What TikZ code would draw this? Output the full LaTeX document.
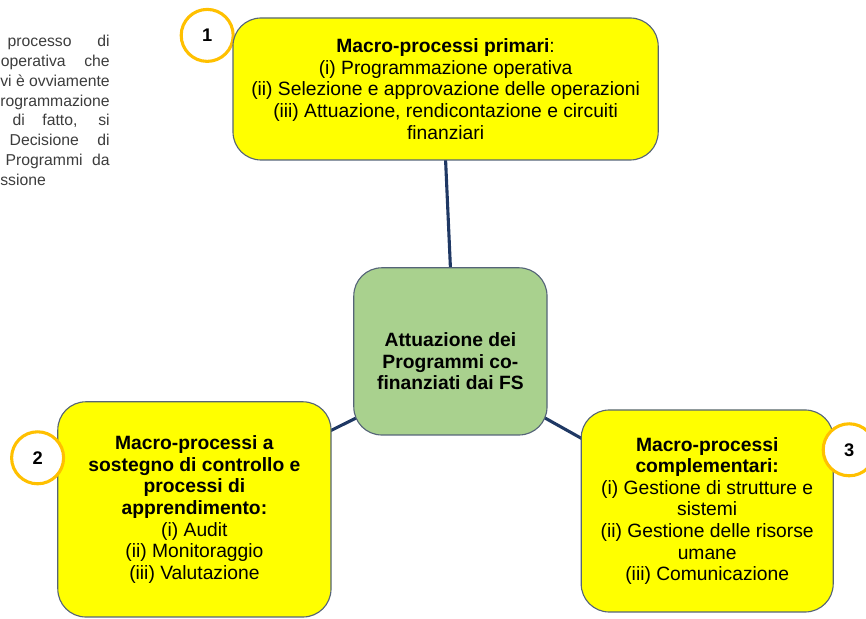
\documentclass[tikz,border=0pt]{standalone}
\usepackage{fontspec}
\setmainfont{Liberation Sans}
\usepackage{tikz}
\usetikzlibrary{positioning, calc}
\pgfdeclarelayer{bg}
\pgfsetlayers{bg,main}
\definecolor{boxyellow}{RGB}{255,255,0}
\definecolor{boxgreen}{RGB}{169,209,142}
\definecolor{boxborder}{RGB}{85,100,120}
\definecolor{linknavy}{RGB}{31,56,100}
\definecolor{numorange}{RGB}{255,192,0}
\definecolor{paragray}{RGB}{60,60,60}

\begin{document}
\begin{tikzpicture}[scale=1,
	macro/.style={draw=boxborder, line width=0.8pt, fill=boxyellow, rounded corners=0.7cm,
		align=center, inner sep=0pt, font=\fontsize{13.7}{15.4}\selectfont},
	hub/.style={macro, fill=boxgreen},
	numcirc/.style={circle, draw=numorange, line width=2.2pt, fill=white, minimum size=1.3cm,
		inner sep=0pt, font=\fontsize{13}{14}\selectfont\bfseries},
	link/.style={draw=linknavy, line width=2.2pt, shorten <=-3pt, shorten >=-3pt},
	para/.style={text=paragray, inner sep=0pt, font=\fontsize{11.2}{13}\selectfont}]

		\useasboundingbox (0,0) rectangle (21.65,15.475);

		% the cut paragraph top left
		\node[para, anchor=base east] (p1) at (2.75,14.30) {\makebox[2.55cm][s]{processo di}};
		\node[para, anchor=base east] (p2) at (2.75,13.81) {\makebox[2.72cm][s]{operativa che}};
		\node[para, anchor=base east] (p3) at (2.75,13.31) {vi è ovviamente};
		\node[para, anchor=base east] (p4) at (2.75,12.82) {rogrammazione};
		\node[para, anchor=base east] (p5) at (2.75,12.33) {\makebox[2.43cm][s]{di fatto, si}};
		\node[para, anchor=base east] (p6) at (2.75,11.83) {\makebox[2.50cm][s]{Decisione di}};
		\node[para, anchor=base east] (p7) at (2.75,11.34) {\makebox[2.60cm][s]{Programmi da}};
		\node[para, anchor=base west] (p8) at (0,10.84) {ssione};

		% number 1 sits behind its box
		\node[numcirc] (n1) at (5.18,14.59) {1};

		% the four boxes
		\node[macro, minimum width=10.63cm, minimum height=3.55cm] (prim) at (11.14,13.25)
			{\textbf{Macro-processi primari}:\\
			 (i) Programmazione operativa\\
			 (ii) Selezione e approvazione delle operazioni\\
			 (iii) Attuazione, rendicontazione e circuiti\\
			 finanziari};
		\node[hub, minimum width=4.83cm, minimum height=4.18cm] (hub) at (11.26,6.69) {};
		\node[align=center, font=\fontsize{13.7}{15.4}\selectfont\bfseries] (hubtxt)
			at ([yshift=-0.25cm]hub.center) {Attuazione dei\\ Programmi co-\\ finanziati dai FS};
		\node[macro, minimum width=6.83cm, minimum height=5.38cm] (ctrl) at (4.86,2.74)
			{\textbf{Macro-processi a}\\
			 \textbf{sostegno di controllo e}\\
			 \textbf{processi di}\\
			 \textbf{apprendimento:}\\
			 (i) Audit\\
			 (ii) Monitoraggio\\
			 (iii) Valutazione};
		\node[macro, minimum width=6.30cm, minimum height=5.05cm] (compl) at (17.68,2.70)
			{\textbf{Macro-processi}\\
			 \textbf{complementari:}\\
			 (i) Gestione di strutture e\\
			 sistemi\\
			 (ii) Gestione delle risorse\\
			 umane\\
			 (iii) Comunicazione};

		% numbers 2 and 3 lie over their boxes
		\node[numcirc] (n2) at (0.94,4.03) {2};
		\node[numcirc] (n3) at (21.23,4.23) {3};

		% connectors behind the boxes
		\begin{pgfonlayer}{bg}
			\draw[link] (prim.south) -- (hub.north);
			\draw[link] (ctrl.30) -- (hub.215);
			\draw[link] (hub.-35) -- (compl.150);
		\end{pgfonlayer}
	\end{tikzpicture}
\end{document}
